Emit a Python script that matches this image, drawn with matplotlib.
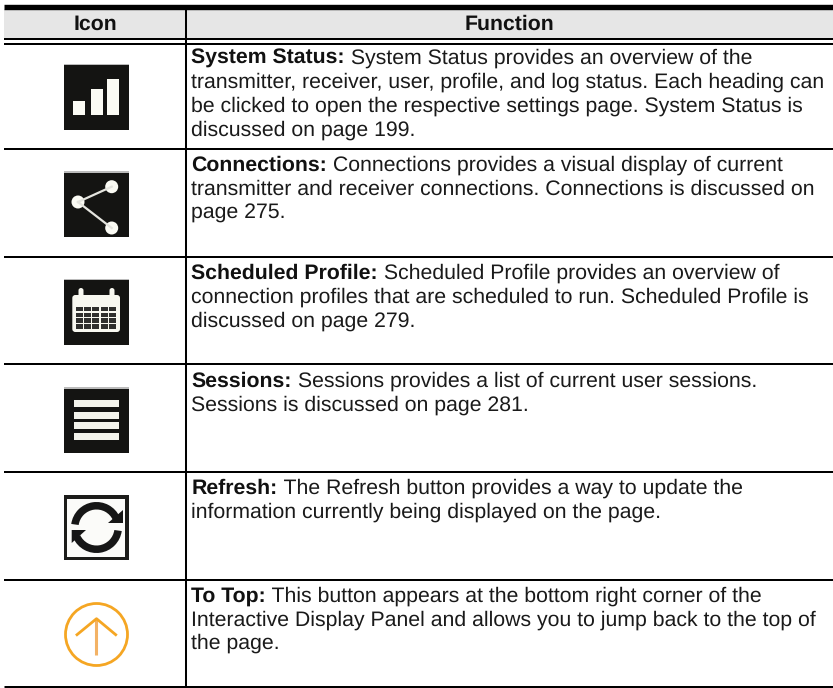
import numpy as np
import matplotlib
matplotlib.use("Agg")
import matplotlib.pyplot as plt
from matplotlib.patches import Rectangle, Circle, FancyBboxPatch, Wedge, Polygon

plt.rcParams['font.family'] = ['Liberation Sans', 'DejaVu Sans']
plt.rcParams['text.hinting'] = 'no_hinting'

headers = ["Icon", "Function"]
titles = ["System Status:", "Connections:", "Scheduled Profile:", "Sessions:", "Refresh:", "To Top:"]
first_lines = [
    " System Status provides an overview of the",
    " Connections provides a visual display of current",
    " Scheduled Profile provides an overview of",
    " Sessions provides a list of current user sessions.",
    " The Refresh button provides a way to update the",
    " This button appears at the bottom right corner of the",
]
other_lines = [
    ["transmitter, receiver, user, profile, and log status. Each heading can",
     "be clicked to open the respective settings page. System Status is",
     "discussed on page 199."],
    ["transmitter and receiver connections. Connections is discussed on",
     "page 275."],
    ["connection profiles that are scheduled to run. Scheduled Profile is",
     "discussed on page 279."],
    ["Sessions is discussed on page 281."],
    ["information currently being displayed on the page."],
    ["Interactive Display Panel and allows you to jump back to the top of",
     "the page."],
]

W, H = 833, 688
fig = plt.figure(figsize=(W / 100, H / 100), dpi=100)
ax = fig.add_axes([0, 0, 1, 1])
ax.set_xlim(0, W)
ax.set_ylim(H, 0)
ax.axis("off")

L, R, MID = 4, 833, 186
FS = 15.32
LINE = 23.8
baselines = [64, 171, 279, 386.5, 494, 601.5]
row_lines = [148.5, 256.7, 364, 472, 579.8]
icon_tops = [63.5, 171, 278.5, 387, 495, 602]
ICON_X, ICON_S = 64, 65
DARK = "#141412"
ORANGE = "#f5a623"


def hline(y, px):
    ax.plot([L, R], [y, y], color="black", lw=px * 0.72, solid_capstyle="butt")


def rect(x, y, w, h, c, **kw):
    ax.add_patch(Rectangle((x, y), w, h, fc=c, ec="none", **kw))


def bars_icon(x, y):
    s = ICON_S
    rect(x, y, s, s + 1.5, DARK)
    rect(x, y, s, 1.5, "#bbbbbb")
    for bx, bt, bw in [(9, 37, 12), (26.7, 25.5, 12), (43, 15.5, 12)]:
        rect(x + bx, y + bt, bw, 51 - bt, "#fbfbf4")


def share_icon(x, y):
    rect(x, y, ICON_S, ICON_S + 1, DARK)
    rect(x, y, ICON_S, 1.5, "#bbbbbb")
    pts = [(14, 31), (47.7, 15.7), (47.7, 57)]
    for p in pts[1:]:
        ax.plot([x + pts[0][0], x + p[0]], [y + pts[0][1], y + p[1]], color="#e4e4de", lw=1.6)
    for p in pts:
        ax.add_patch(Circle((x + p[0], y + p[1]), 6.5, fc="#fbfbf4", ec="none"))


def calendar_icon(x, y):
    rect(x, y, ICON_S, ICON_S + 1, DARK)
    rect(x, y, ICON_S, 1.5, "#bbbbbb")
    ax.add_patch(FancyBboxPatch((x + 8.3, y + 16.5), 47.7, 37, boxstyle="round,pad=0,rounding_size=3",
                                fc="#f8f8f0", ec="none"))
    for tx in (17, 48):
        ax.add_patch(FancyBboxPatch((x + tx - 2.5, y + 9.5), 5, 12, boxstyle="round,pad=0,rounding_size=2.5",
                                    fc="#f8f8f0", ec="none"))
    for i in range(5):
        for j in range(4):
            rect(x + 11.7 + i * 8.3, y + 28.5 + j * 5.7, 7, 4.4, "#2f2f2d")


def lines_icon(x, y):
    rect(x, y, ICON_S, ICON_S + 1, DARK)
    rect(x, y, ICON_S, 1.5, "#bbbbbb")
    for ly in (13, 25, 35.3, 46.3):
        rect(x + 10, y + ly, 45, 6.7, "#f4f4ec")


def refresh_icon(x, y):
    s = ICON_S
    rect(x, y, s, s, "#1c1c1a")
    rect(x + 3.5, y + 3.5, s - 7, s - 7, "#fbfbf9")
    c = (x + s / 2, y + s / 2)
    # y axis is inverted, so the upper arc is 180-360
    ax.add_patch(Wedge(c, 25.5, 188, 335, width=7.5, fc="#161616", ec="none"))
    ax.add_patch(Wedge(c, 25.5, 8, 155, width=7.5, fc="#161616", ec="none"))
    ax.add_patch(Polygon([(x + 58.7, y + 15), (x + 58.7, y + 28.3), (x + 44.3, y + 28.3)], fc="#161616", ec="none"))
    ax.add_patch(Polygon([(x + 7.7, y + 35), (x + 7.7, y + 48), (x + 22, y + 35)], fc="#161616", ec="none"))


def top_icon(x, y):
    c = (x + ICON_S / 2, y + ICON_S / 2)
    ax.add_patch(Circle(c, 31, fc="white", ec=ORANGE, lw=2.0))
    ax.plot([x + 32.5, x + 32.5], [y + 17, y + 52.7], color="#f3b265", lw=2.2, solid_capstyle="butt")
    ax.plot([x + 13, x + 32.5, x + 51.7], [y + 32.7, y + 16.7, y + 32.7], color=ORANGE, lw=2.0)


# header band and rules
rect(L, 9, R - L, 29.5, "#e6e6e6")
hline(6.7, 5.4)
hline(39.2, 2)
hline(43.7, 2)
for y in row_lines:
    hline(y, 2)
hline(686.5, 3)
ax.plot([MID, MID], [9, 686], color="black", lw=1.45, solid_capstyle="butt")

ax.text((L + MID) / 2, 29.5, headers[0], fontsize=FS, fontweight="bold", ha="center", va="baseline", color="#111111")
ax.text((MID + R) / 2, 29.5, headers[1], fontsize=FS, fontweight="bold", ha="center", va="baseline", color="#111111")

icons = [bars_icon, share_icon, calendar_icon, lines_icon, refresh_icon, top_icon]
for fn, y in zip(icons, icon_tops):
    fn(ICON_X, y)

fig.canvas.draw()
rend = fig.canvas.get_renderer()
for base, title, first, rest in zip(baselines, titles, first_lines, other_lines):
    t = ax.text(191.5, base, title, fontsize=FS, fontweight="bold", va="baseline", color="#111111")
    bb = t.get_window_extent(rend)
    ax.text(bb.x1, base, first, fontsize=FS, va="baseline", color="#1a1a1a")
    for i, line in enumerate(rest):
        ax.text(191.5, base + (i + 1) * LINE, line, fontsize=FS, va="baseline", color="#1a1a1a")

fig.savefig("out.png", dpi=100)
